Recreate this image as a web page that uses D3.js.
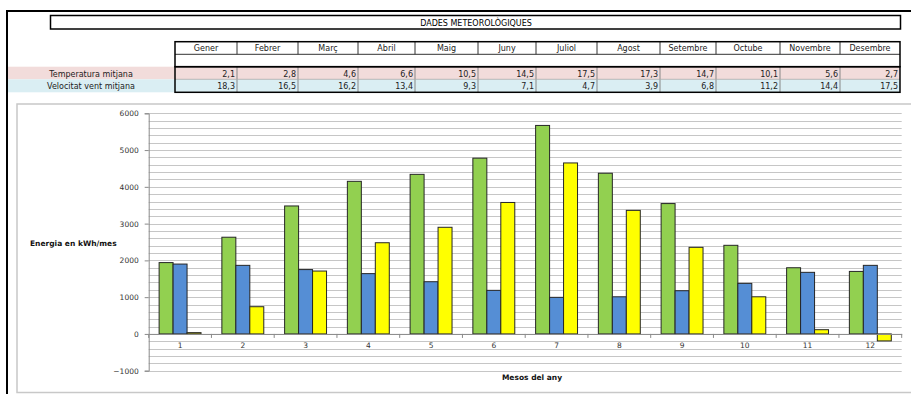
<!DOCTYPE html>
<html><head><meta charset="utf-8">
<script src="https://cdn.jsdelivr.net/npm/d3@7"></script>
<style>body{margin:0;background:#fff;}svg{display:block;}</style>
</head><body>
<svg id="c" width="911" height="394"></svg>
<script>
// ---- data ----
const title = "DADES METEOROLÒGIQUES";
const months = ["Gener","Febrer","Març","Abril","Maig","Juny","Juliol","Agost","Setembre","Octube","Novembre","Desembre"];
const tempLabel = "Temperatura mitjana";
const windLabel = "Velocitat vent mitjana";
const temperature = [2.1, 2.8, 4.6, 6.6, 10.5, 14.5, 17.5, 17.3, 14.7, 10.1, 5.6, 2.7];
const windSpeed = [18.3, 16.5, 16.2, 13.4, 9.3, 7.1, 4.7, 3.9, 6.8, 11.2, 14.4, 17.5];
const monthNumbers = [1,2,3,4,5,6,7,8,9,10,11,12];
const seriesGreen = [1940, 2630, 3480, 4150, 4340, 4780, 5670, 4370, 3545, 2410, 1800, 1700];
const seriesBlue = [1900, 1865, 1750, 1640, 1420, 1185, 995, 1010, 1175, 1375, 1675, 1865];
const seriesYellow = [35, 740, 1710, 2480, 2900, 3575, 4650, 3360, 2355, 1010, 115, -190];
const yTicks = [-1000, 0, 1000, 2000, 3000, 4000, 5000, 6000];
const yAxisTitle = "Energia en kWh/mes";
const xAxisTitle = "Mesos del any";

// ---- layout ----
const svg = d3.select("#c");
const FONT = "'DejaVu Sans', sans-serif";
const fmt = v => v.toFixed(1).replace(".", ",");

// outer frame
svg.append("line").attr("x1",6).attr("x2",911).attr("y1",11).attr("y2",11).attr("stroke","#000").attr("stroke-width",2);
svg.append("line").attr("x1",7).attr("x2",7).attr("y1",10).attr("y2",394).attr("stroke","#000").attr("stroke-width",2);

// title box
svg.append("rect").attr("x",50.5).attr("y",15.5).attr("width",850).attr("height",13.5)
  .attr("fill","#fff").attr("stroke","#000").attr("stroke-width",1.5);
svg.append("text").attr("x",476).attr("y",25.5).attr("text-anchor","middle")
  .attr("font-family",FONT).attr("font-size",8).attr("fill","#000").text(title);

// table
const colEdges = [175, 237, 298, 358, 415, 478, 536, 597, 660, 716, 780, 840, 900];
const rowY = {head:41.7, blank:54.3, temp:66.7, wind:79.3, end:92.3};
const tbl = svg.append("g");
// row backgrounds
tbl.append("rect").attr("x",8).attr("y",rowY.temp).attr("width",colEdges[12]-8).attr("height",rowY.wind-rowY.temp).attr("fill","#f2dcdb");
tbl.append("rect").attr("x",8).attr("y",rowY.wind).attr("width",colEdges[12]-8).attr("height",rowY.end-rowY.wind).attr("fill","#daeef3");
// row labels
tbl.append("text").attr("x",91).attr("y",rowY.temp+9.8).attr("text-anchor","middle").attr("font-family",FONT).attr("font-size",8).attr("fill","#222").text(tempLabel);
tbl.append("text").attr("x",91).attr("y",rowY.wind+9.8).attr("text-anchor","middle").attr("font-family",FONT).attr("font-size",8).attr("fill","#222").text(windLabel);
// cells
months.forEach((m,i)=>{
  const x0 = colEdges[i], x1 = colEdges[i+1];
  tbl.append("text").attr("x",(x0+x1)/2).attr("y",rowY.head+9.5).attr("text-anchor","middle")
    .attr("font-family",FONT).attr("font-size",8).attr("fill","#222").text(m);
  tbl.append("text").attr("x",x1-2).attr("y",rowY.temp+9.8).attr("text-anchor","end")
    .attr("font-family",FONT).attr("font-size",8).attr("fill","#222").text(fmt(temperature[i]));
  tbl.append("text").attr("x",x1-2).attr("y",rowY.wind+9.8).attr("text-anchor","end")
    .attr("font-family",FONT).attr("font-size",8).attr("fill","#222").text(fmt(windSpeed[i]));
  if (i>0) {
    tbl.append("line").attr("x1",x0).attr("x2",x0).attr("y1",rowY.head).attr("y2",rowY.blank).attr("stroke","#333").attr("stroke-width",1);
    tbl.append("line").attr("x1",x0).attr("x2",x0).attr("y1",rowY.temp).attr("y2",rowY.end).attr("stroke","#888").attr("stroke-width",1);
  }
});
tbl.append("line").attr("x1",colEdges[0]).attr("x2",colEdges[12]).attr("y1",rowY.blank).attr("y2",rowY.blank).attr("stroke","#333").attr("stroke-width",1);
tbl.append("line").attr("x1",colEdges[0]).attr("x2",colEdges[12]).attr("y1",rowY.wind).attr("y2",rowY.wind).attr("stroke","#aaa").attr("stroke-width",0.8);
tbl.append("rect").attr("x",colEdges[0]).attr("y",rowY.head).attr("width",colEdges[12]-colEdges[0]).attr("height",rowY.temp-rowY.head)
  .attr("fill","none").attr("stroke","#000").attr("stroke-width",1.5);
tbl.append("rect").attr("x",colEdges[0]).attr("y",rowY.temp).attr("width",colEdges[12]-colEdges[0]).attr("height",rowY.end-rowY.temp)
  .attr("fill","none").attr("stroke","#000").attr("stroke-width",1.5);

// chart box
svg.append("rect").attr("x",17).attr("y",104).attr("width",900).attr("height",288.5)
  .attr("fill","#fff").attr("stroke","#c8c8c8").attr("stroke-width",1.5);

// scales
const x = d3.scaleBand().domain(monthNumbers).range([148.7, 901.7]).paddingInner(0).paddingOuter(0);
const y = d3.scaleLinear().domain([-1000, 6000]).range([370.7, 113.3]);
const seriesKeys = ["g","b","y"];
const xs = d3.scaleBand().domain(seriesKeys).range([x.bandwidth()*0.166, x.bandwidth()*0.834]).padding(0);

// gridlines every 200
const g = svg.append("g");
g.selectAll("line.grid").data(d3.range(-1000, 6001, 200)).join("line")
  .attr("x1",x.range()[0]).attr("x2",x.range()[1])
  .attr("y1",d=>Math.round(y(d))+0.5).attr("y2",d=>Math.round(y(d))+0.5)
  .attr("stroke","#c6c6c6").attr("stroke-width",1);

// y axis
const yAxis = d3.axisLeft(y).tickValues(yTicks).tickSize(4).tickPadding(6).tickFormat(d3.format("d"));
const ya = svg.append("g").attr("transform",`translate(${x.range()[0]},0)`).call(yAxis);
ya.select(".domain").attr("stroke","#8a8a8a");
ya.selectAll(".tick line").attr("stroke","#8a8a8a");
ya.selectAll("text").attr("font-family",FONT).attr("font-size",7.5).attr("fill","#333");

// bars
const colors = {g:"#92d050", b:"#558ed5", y:"#ffff00"};
const rows = monthNumbers.map((m,i)=>({m, vals:[{k:"g",v:seriesGreen[i]},{k:"b",v:seriesBlue[i]},{k:"y",v:seriesYellow[i]}]}));
const bars = svg.append("g");
rows.forEach(r=>{
  bars.selectAll(null).data(r.vals).join("rect")
    .attr("x",d=>x(r.m)+xs(d.k))
    .attr("y",d=>y(Math.max(0,d.v)))
    .attr("width",xs.bandwidth())
    .attr("height",d=>Math.abs(y(d.v)-y(0)))
    .attr("fill",d=>colors[d.k])
    .attr("stroke","#262626").attr("stroke-width",1);
});

// x axis at zero
const xAxis = d3.axisBottom(x).tickSize(0).tickPadding(9);
const xa = svg.append("g").attr("transform",`translate(0,${y(0)})`).call(xAxis);
xa.select(".domain").attr("stroke","#8a8a8a");
xa.selectAll("text").attr("font-family",FONT).attr("font-size",7.5).attr("fill","#333");
const edges = monthNumbers.map(m=>x(m)).concat([x.range()[1]]);
xa.selectAll("line.edge").data(edges).join("line").attr("class","edge")
  .attr("x1",d=>d).attr("x2",d=>d).attr("y1",0).attr("y2",4).attr("stroke","#8a8a8a");

// axis titles
svg.append("text").attr("x",30).attr("y",245.5).attr("font-family",FONT).attr("font-size",7.5).attr("font-weight","bold").attr("fill","#111").text(yAxisTitle);
svg.append("text").attr("x",532).attr("y",380).attr("text-anchor","middle").attr("font-family",FONT).attr("font-size",7.5).attr("font-weight","bold").attr("fill","#111").text(xAxisTitle);
</script>
</body></html>
